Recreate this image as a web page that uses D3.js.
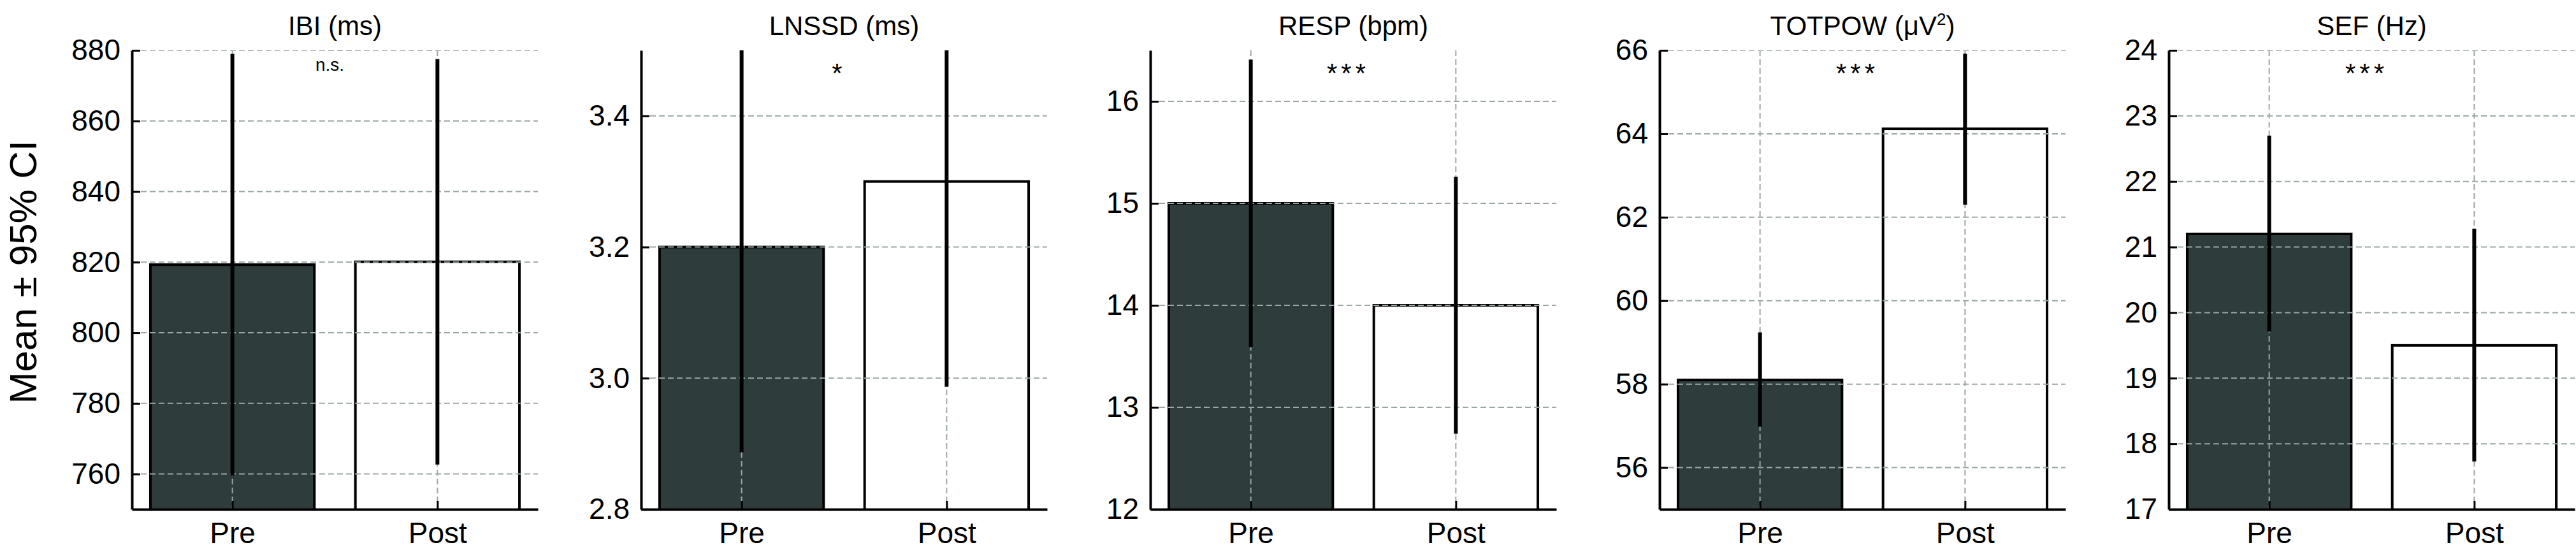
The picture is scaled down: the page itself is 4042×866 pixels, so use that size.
<!DOCTYPE html>
<html lang="en">

<head>
    <meta charset="UTF-8">
    <title>Pre / Post bar charts</title>
    <script src="https://d3js.org/d3.v7.min.js"></script>
    <style>
        body {
            margin: 0;
            background: #fff;
        }

        svg {
            display: block;
            font-family: "Liberation Sans", Arial, sans-serif;
        }
    </style>
</head>

<body>
    <svg id="chart" width="4042" height="866"></svg>

    <script>
        // chart values
        const titles = ["IBI (ms)", "LNSSD (ms)", "RESP (bpm)", "TOTPOW (μV²)", "SEF (Hz)"];
        const categories = ["Pre", "Post"];
        const preMean = [819.3, 3.2, 15.0, 58.1, 21.2];
        const postMean = [820.1, 3.3, 14.0, 64.12, 19.5];
        const preLow = [759.6, 2.887, 13.59, 56.98, 19.71];
        const preHigh = [879.0, 3.513, 16.41, 59.24, 22.70];
        const postLow = [762.7, 2.987, 12.74, 62.30, 17.73];
        const postHigh = [877.5, 3.613, 15.26, 65.92, 21.28];
        const yMin = [750, 2.8, 12, 55, 17];
        const yMax = [880, 3.5, 16.5, 66, 24];
        const yTicks = [
            [760, 780, 800, 820, 840, 860, 880],
            [2.8, 3.0, 3.2, 3.4],
            [12, 13, 14, 15, 16],
            [56, 58, 60, 62, 64, 66],
            [17, 18, 19, 20, 21, 22, 23, 24]
        ];
        const tickFormats = ["d", ".1f", "d", "d", "d"];
        const sigLabels = ["n.s.", "*", "***", "***", "***"];

        // layout
        const plotTop = 79, plotH = 720, plotW = 637;
        const firstLeft = 207, step = 799;
        const barFill = ["#2e3c3c", "#ffffff"];
        const gridColor = "#9aa7a5";

        const svg = d3.select("#chart");

        // shared y label
        svg.append("text")
            .attr("transform", `translate(57, ${plotTop + plotH / 2 - 12}) rotate(-90)`)
            .attr("text-anchor", "middle")
            .style("font-size", "60px")
            .text("Mean ± 95% CI");

        titles.forEach(function (title, i) {
            const left = firstLeft + i * step;
            const g = svg.append("g").attr("transform", `translate(${left}, ${plotTop})`);

            const x = d3.scaleLinear().domain([-0.49, 1.49]).range([0, plotW]);
            const y = d3.scaleLinear().domain([yMin[i], yMax[i]]).range([plotH, 0]);

            const rows = categories.map(function (c, j) {
                return {
                    cat: c, idx: j,
                    mean: j === 0 ? preMean[i] : postMean[i],
                    lo: j === 0 ? preLow[i] : postLow[i],
                    hi: j === 0 ? preHigh[i] : postHigh[i]
                };
            });

            const clipId = "clip" + i;
            g.append("clipPath").attr("id", clipId)
                .append("rect").attr("x", 0).attr("y", 0).attr("width", plotW).attr("height", plotH);

            const inner = g.append("g").attr("clip-path", `url(#${clipId})`);

            // bars
            inner.selectAll("rect.bar")
                .data(rows)
                .join("rect")
                .attr("class", "bar")
                .attr("x", d => x(d.idx - 0.4))
                .attr("width", d => x(d.idx + 0.4) - x(d.idx - 0.4))
                .attr("y", d => y(d.mean))
                .attr("height", d => plotH - y(d.mean) + 4)
                .attr("fill", d => barFill[d.idx])
                .attr("stroke", "#000")
                .attr("stroke-width", 4);

            // grid, drawn over the bars
            inner.selectAll("line.hgrid")
                .data(yTicks[i])
                .join("line")
                .attr("class", "hgrid")
                .attr("x1", 0).attr("x2", plotW)
                .attr("y1", d => y(d)).attr("y2", d => y(d))
                .attr("stroke", gridColor)
                .attr("stroke-width", 2)
                .attr("stroke-dasharray", "9,5");
            inner.selectAll("line.vgrid")
                .data(rows)
                .join("line")
                .attr("class", "vgrid")
                .attr("x1", d => x(d.idx)).attr("x2", d => x(d.idx))
                .attr("y1", 0).attr("y2", plotH)
                .attr("stroke", gridColor)
                .attr("stroke-width", 2)
                .attr("stroke-dasharray", "9,5");

            // error bars
            inner.selectAll("line.err")
                .data(rows)
                .join("line")
                .attr("class", "err")
                .attr("x1", d => x(d.idx)).attr("x2", d => x(d.idx))
                .attr("y1", d => y(d.lo)).attr("y2", d => y(d.hi))
                .attr("stroke", "#000")
                .attr("stroke-width", 6);

            // y axis (ticks point inward)
            const yAxis = g.append("g")
                .call(d3.axisLeft(y).tickValues(yTicks[i]).tickFormat(d3.format(tickFormats[i]))
                    .tickSize(-13).tickPadding(18).tickSizeOuter(0));
            yAxis.select(".domain").attr("stroke-width", 4);
            yAxis.selectAll(".tick line").attr("stroke-width", 3);
            yAxis.selectAll("text").style("font-size", "46px").attr("fill", "#000");

            // x axis
            const xAxis = g.append("g")
                .attr("transform", `translate(0, ${plotH})`)
                .call(d3.axisBottom(x).tickValues([0, 1]).tickFormat(d => categories[d])
                    .tickSize(-13).tickPadding(20).tickSizeOuter(0));
            xAxis.select(".domain").attr("stroke-width", 4);
            xAxis.selectAll(".tick line").attr("stroke-width", 3);
            xAxis.selectAll("text").style("font-size", "46px").attr("fill", "#000");

            // title
            const t = g.append("text")
                .attr("x", plotW / 2)
                .attr("y", -24)
                .attr("text-anchor", "middle")
                .style("font-size", "42px");
            if (title.indexOf("²") >= 0) {
                t.append("tspan").text(title.replace("²)", ""));
                t.append("tspan").attr("dy", -16).style("font-size", "26px").text("2");
                t.append("tspan").attr("dy", 16).text(")");
            } else {
                t.text(title);
            }

            // significance
            const s = sigLabels[i];
            g.append("text")
                .attr("x", x(0.5) - 8)
                .attr("y", s === "n.s." ? 32 : 50)
                .attr("text-anchor", "middle")
                .style("font-size", s === "n.s." ? "28px" : "42px")
                .style("letter-spacing", s === "n.s." ? "0px" : "6px")
                .text(s);
        });
    </script>
</body>

</html>
